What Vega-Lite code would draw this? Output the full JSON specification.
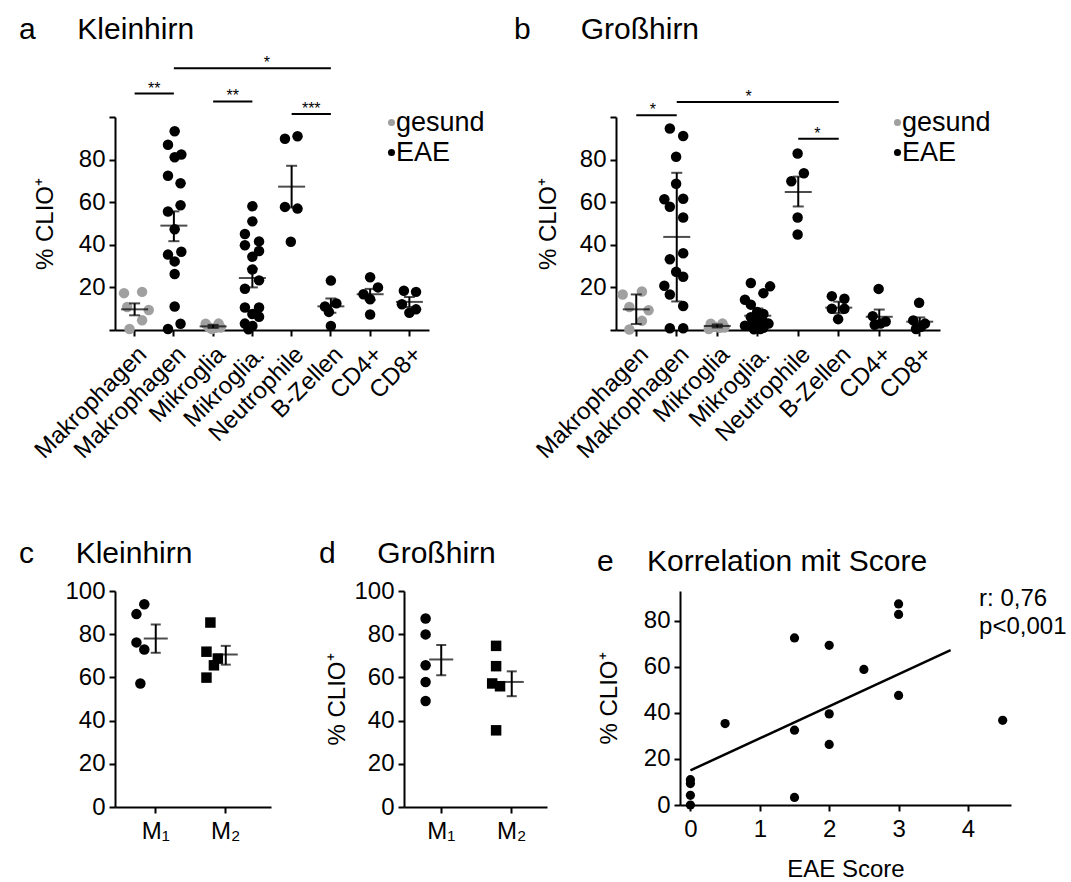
{
"$schema": "https://vega.github.io/schema/vega-lite/v6.json",
"padding": {"left": 19, "top": 15, "right": 5, "bottom": 5},
"background": "white",
"config": {
 "font": "Liberation Sans",
 "view": {"stroke": null},
 "axis": {"labelFont": "Liberation Sans", "titleFont": "Liberation Sans", "labelFontSize": 24, "titleFontSize": 24, "titleFontWeight": "normal", "labelColor": "black", "titleColor": "black", "domainColor": "black", "tickColor": "black", "domainWidth": 2, "tickWidth": 2, "tickSize": 6, "labelPadding": 4, "grid": false, "labelFlush": false, "titlePadding": 16},
 "legend": {"labelFont": "Liberation Sans", "labelFontSize": 27, "labelColor": "black"},
 "title": {"font": "Liberation Sans", "fontSize": 30, "fontWeight": "normal", "anchor": "start", "color": "black", "frame": "group"}
},
"datasets": {
 "a_pts": [
  {"cat":"Makrophagen_g","group":"gesund","v":17.3,"j":-0.27},
  {"cat":"Makrophagen_g","group":"gesund","v":17.9,"j":0.19},
  {"cat":"Makrophagen_g","group":"gesund","v":9.4,"j":0.36},
  {"cat":"Makrophagen_g","group":"gesund","v":4.6,"j":0.19},
  {"cat":"Makrophagen_g","group":"gesund","v":0.5,"j":-0.13},
  {"cat":"Makrophagen_g","group":"gesund","v":10.8,"j":-0.19},
  {"cat":"Makrophagen_e","group":"EAE","v":93.3,"j":0.02},
  {"cat":"Makrophagen_e","group":"EAE","v":87.0,"j":-0.15},
  {"cat":"Makrophagen_e","group":"EAE","v":82.4,"j":0.19},
  {"cat":"Makrophagen_e","group":"EAE","v":81.1,"j":0.02},
  {"cat":"Makrophagen_e","group":"EAE","v":72.4,"j":-0.15},
  {"cat":"Makrophagen_e","group":"EAE","v":68.9,"j":0.17},
  {"cat":"Makrophagen_e","group":"EAE","v":58.6,"j":0.17},
  {"cat":"Makrophagen_e","group":"EAE","v":55.6,"j":-0.15},
  {"cat":"Makrophagen_e","group":"EAE","v":47.3,"j":0.02},
  {"cat":"Makrophagen_e","group":"EAE","v":35.4,"j":-0.15},
  {"cat":"Makrophagen_e","group":"EAE","v":36.7,"j":0.19},
  {"cat":"Makrophagen_e","group":"EAE","v":32.2,"j":0.02},
  {"cat":"Makrophagen_e","group":"EAE","v":26.3,"j":0.02},
  {"cat":"Makrophagen_e","group":"EAE","v":11.0,"j":0.02},
  {"cat":"Makrophagen_e","group":"EAE","v":2.9,"j":0.17},
  {"cat":"Makrophagen_e","group":"EAE","v":0.5,"j":-0.15},
  {"cat":"Mikroglia_g","group":"gesund","v":2.9,"j":-0.19},
  {"cat":"Mikroglia_g","group":"gesund","v":3.0,"j":0.14},
  {"cat":"Mikroglia_g","group":"gesund","v":1.3,"j":-0.11},
  {"cat":"Mikroglia_g","group":"gesund","v":1.0,"j":0.06},
  {"cat":"Mikroglia_g","group":"gesund","v":0.5,"j":-0.03},
  {"cat":"Mikroglia_g","group":"gesund","v":1.2,"j":0.19},
  {"cat":"Mikroglia._e","group":"EAE","v":58.1,"j":0},
  {"cat":"Mikroglia._e","group":"EAE","v":51.0,"j":0},
  {"cat":"Mikroglia._e","group":"EAE","v":45.1,"j":-0.19},
  {"cat":"Mikroglia._e","group":"EAE","v":41.6,"j":0.17},
  {"cat":"Mikroglia._e","group":"EAE","v":39.8,"j":-0.19},
  {"cat":"Mikroglia._e","group":"EAE","v":37.1,"j":0.17},
  {"cat":"Mikroglia._e","group":"EAE","v":34.4,"j":0},
  {"cat":"Mikroglia._e","group":"EAE","v":28.4,"j":0},
  {"cat":"Mikroglia._e","group":"EAE","v":23.3,"j":0.17},
  {"cat":"Mikroglia._e","group":"EAE","v":19.4,"j":-0.19},
  {"cat":"Mikroglia._e","group":"EAE","v":10.6,"j":-0.19},
  {"cat":"Mikroglia._e","group":"EAE","v":10.6,"j":0.17},
  {"cat":"Mikroglia._e","group":"EAE","v":7.5,"j":0},
  {"cat":"Mikroglia._e","group":"EAE","v":6.2,"j":0.17},
  {"cat":"Mikroglia._e","group":"EAE","v":3.0,"j":-0.19},
  {"cat":"Mikroglia._e","group":"EAE","v":1.9,"j":0},
  {"cat":"Mikroglia._e","group":"EAE","v":0.3,"j":-0.1},
  {"cat":"Neutrophile","group":"EAE","v":89.8,"j":-0.17},
  {"cat":"Neutrophile","group":"EAE","v":91.0,"j":0.15},
  {"cat":"Neutrophile","group":"EAE","v":57.8,"j":-0.17},
  {"cat":"Neutrophile","group":"EAE","v":57.0,"j":0.15},
  {"cat":"Neutrophile","group":"EAE","v":41.4,"j":-0.02},
  {"cat":"B-Zellen","group":"EAE","v":23.2,"j":0},
  {"cat":"B-Zellen","group":"EAE","v":12.5,"j":0.14},
  {"cat":"B-Zellen","group":"EAE","v":11.0,"j":-0.15},
  {"cat":"B-Zellen","group":"EAE","v":8.5,"j":-0.05},
  {"cat":"B-Zellen","group":"EAE","v":1.9,"j":0},
  {"cat":"CD4+","group":"EAE","v":24.8,"j":0},
  {"cat":"CD4+","group":"EAE","v":20.0,"j":0.2},
  {"cat":"CD4+","group":"EAE","v":16.8,"j":-0.17},
  {"cat":"CD4+","group":"EAE","v":14.4,"j":0},
  {"cat":"CD4+","group":"EAE","v":7.3,"j":0},
  {"cat":"CD8+","group":"EAE","v":18.4,"j":-0.14},
  {"cat":"CD8+","group":"EAE","v":17.9,"j":0.17},
  {"cat":"CD8+","group":"EAE","v":12.1,"j":-0.19},
  {"cat":"CD8+","group":"EAE","v":9.7,"j":0.17},
  {"cat":"CD8+","group":"EAE","v":8.1,"j":0}
 ],
 "a_sum": [
  {"cat":"Makrophagen_g","mean":9.7,"lo":6.9,"hi":12.5},
  {"cat":"Makrophagen_e","mean":49.0,"lo":41.7,"hi":55.7},
  {"cat":"Mikroglia_g","mean":1.7,"lo":1.0,"hi":2.4},
  {"cat":"Mikroglia._e","mean":24.4,"lo":20.0,"hi":28.8},
  {"cat":"Neutrophile","mean":67.3,"lo":57.5,"hi":77.1},
  {"cat":"B-Zellen","mean":11.1,"lo":8.1,"hi":14.8},
  {"cat":"CD4+","mean":16.8,"lo":14.0,"hi":19.3},
  {"cat":"CD8+","mean":13.2,"lo":10.8,"hi":15.5}
 ],
 "a_sig": [
  {"from":"Makrophagen_g","to":"Makrophagen_e","y":111,"star":"**","at":"Makrophagen_g","off":0.5},
  {"from":"Makrophagen_e","to":"B-Zellen","y":122.9,"star":"*","at":"Mikroglia._e","off":0.37},
  {"from":"Mikroglia_g","to":"Mikroglia._e","y":107.3,"star":"**","at":"Mikroglia_g","off":0.5},
  {"from":"Neutrophile","to":"B-Zellen","y":101.4,"star":"***","at":"Neutrophile","off":0.5}
 ],
 "b_pts": [
  {"cat":"Makrophagen_g","group":"gesund","v":16.7,"j":-0.33},
  {"cat":"Makrophagen_g","group":"gesund","v":18.1,"j":0.16},
  {"cat":"Makrophagen_g","group":"gesund","v":10.8,"j":-0.16},
  {"cat":"Makrophagen_g","group":"gesund","v":9.3,"j":0.33},
  {"cat":"Makrophagen_g","group":"gesund","v":4.3,"j":0.16},
  {"cat":"Makrophagen_g","group":"gesund","v":0.2,"j":-0.16},
  {"cat":"Makrophagen_e","group":"EAE","v":94.6,"j":-0.16},
  {"cat":"Makrophagen_e","group":"EAE","v":91.1,"j":0.18},
  {"cat":"Makrophagen_e","group":"EAE","v":81.3,"j":0},
  {"cat":"Makrophagen_e","group":"EAE","v":68.7,"j":0},
  {"cat":"Makrophagen_e","group":"EAE","v":61.4,"j":-0.3},
  {"cat":"Makrophagen_e","group":"EAE","v":61.6,"j":0.18},
  {"cat":"Makrophagen_e","group":"EAE","v":57.9,"j":-0.16},
  {"cat":"Makrophagen_e","group":"EAE","v":52.8,"j":0.18},
  {"cat":"Makrophagen_e","group":"EAE","v":36.0,"j":0.18},
  {"cat":"Makrophagen_e","group":"EAE","v":33.2,"j":-0.16},
  {"cat":"Makrophagen_e","group":"EAE","v":27.3,"j":0},
  {"cat":"Makrophagen_e","group":"EAE","v":25.0,"j":0.18},
  {"cat":"Makrophagen_e","group":"EAE","v":20.8,"j":-0.3},
  {"cat":"Makrophagen_e","group":"EAE","v":16.7,"j":-0.16},
  {"cat":"Makrophagen_e","group":"EAE","v":11.3,"j":0.18},
  {"cat":"Makrophagen_e","group":"EAE","v":0.8,"j":-0.16},
  {"cat":"Makrophagen_e","group":"EAE","v":0.8,"j":0.18},
  {"cat":"Mikroglia_g","group":"gesund","v":2.9,"j":-0.15},
  {"cat":"Mikroglia_g","group":"gesund","v":3.0,"j":0.15},
  {"cat":"Mikroglia_g","group":"gesund","v":1.5,"j":-0.05},
  {"cat":"Mikroglia_g","group":"gesund","v":1.0,"j":0.08},
  {"cat":"Mikroglia_g","group":"gesund","v":0.5,"j":-0.2},
  {"cat":"Mikroglia_g","group":"gesund","v":1.2,"j":0.2},
  {"cat":"Mikroglia._e","group":"EAE","v":22.1,"j":-0.16},
  {"cat":"Mikroglia._e","group":"EAE","v":20.5,"j":0.33},
  {"cat":"Mikroglia._e","group":"EAE","v":17.3,"j":0.16},
  {"cat":"Mikroglia._e","group":"EAE","v":14.2,"j":-0.31},
  {"cat":"Mikroglia._e","group":"EAE","v":11.9,"j":-0.16},
  {"cat":"Mikroglia._e","group":"EAE","v":8.5,"j":0},
  {"cat":"Mikroglia._e","group":"EAE","v":7.5,"j":0.16},
  {"cat":"Mikroglia._e","group":"EAE","v":6.0,"j":-0.16},
  {"cat":"Mikroglia._e","group":"EAE","v":4.5,"j":0},
  {"cat":"Mikroglia._e","group":"EAE","v":3.8,"j":0.16},
  {"cat":"Mikroglia._e","group":"EAE","v":2.0,"j":-0.16},
  {"cat":"Mikroglia._e","group":"EAE","v":1.0,"j":0},
  {"cat":"Mikroglia._e","group":"EAE","v":1.0,"j":0.16},
  {"cat":"Mikroglia._e","group":"EAE","v":2.0,"j":-0.31},
  {"cat":"Mikroglia._e","group":"EAE","v":0.3,"j":-0.08},
  {"cat":"Mikroglia._e","group":"EAE","v":0.5,"j":0.08},
  {"cat":"Mikroglia._e","group":"EAE","v":3.0,"j":0.29},
  {"cat":"Neutrophile","group":"EAE","v":82.9,"j":0},
  {"cat":"Neutrophile","group":"EAE","v":73.6,"j":0.16},
  {"cat":"Neutrophile","group":"EAE","v":69.8,"j":-0.16},
  {"cat":"Neutrophile","group":"EAE","v":52.8,"j":0},
  {"cat":"Neutrophile","group":"EAE","v":44.8,"j":0},
  {"cat":"B-Zellen","group":"EAE","v":15.9,"j":-0.16},
  {"cat":"B-Zellen","group":"EAE","v":14.7,"j":0.16},
  {"cat":"B-Zellen","group":"EAE","v":10.0,"j":-0.16},
  {"cat":"B-Zellen","group":"EAE","v":10.0,"j":0.16},
  {"cat":"B-Zellen","group":"EAE","v":5.1,"j":0},
  {"cat":"CD4+","group":"EAE","v":19.3,"j":0},
  {"cat":"CD4+","group":"EAE","v":6.5,"j":-0.15},
  {"cat":"CD4+","group":"EAE","v":4.0,"j":0.18},
  {"cat":"CD4+","group":"EAE","v":3.0,"j":0.05},
  {"cat":"CD4+","group":"EAE","v":2.5,"j":-0.1},
  {"cat":"CD8+","group":"EAE","v":12.8,"j":0},
  {"cat":"CD8+","group":"EAE","v":4.5,"j":-0.15},
  {"cat":"CD8+","group":"EAE","v":3.0,"j":0.15},
  {"cat":"CD8+","group":"EAE","v":1.5,"j":0.05},
  {"cat":"CD8+","group":"EAE","v":0.5,"j":-0.08}
 ],
 "b_sum": [
  {"cat":"Makrophagen_g","mean":9.7,"lo":2.8,"hi":16.7},
  {"cat":"Makrophagen_e","mean":43.7,"lo":13.4,"hi":73.8},
  {"cat":"Mikroglia_g","mean":1.9,"lo":1.2,"hi":2.6},
  {"cat":"Mikroglia._e","mean":6.7,"lo":3.6,"hi":10.1},
  {"cat":"Neutrophile","mean":64.8,"lo":58.0,"hi":72.0},
  {"cat":"B-Zellen","mean":10.5,"lo":7.9,"hi":13.3},
  {"cat":"CD4+","mean":6.2,"lo":2.3,"hi":9.6},
  {"cat":"CD8+","mean":3.9,"lo":1.6,"hi":5.9}
 ],
 "b_sig": [
  {"from":"Makrophagen_g","to":"Makrophagen_e","y":100.8,"star":"*","at":"Makrophagen_g","off":0.44},
  {"from":"Makrophagen_e","to":"B-Zellen","y":107,"star":"*","at":"Mikroglia._e","off":-0.22},
  {"from":"Neutrophile","to":"B-Zellen","y":89.8,"star":"*","at":"Neutrophile","off":0.5}
 ],
 "c_pts": [
  {"cat":"M₁","v":93.9,"j":0.1},
  {"cat":"M₁","v":89.3,"j":-0.1},
  {"cat":"M₁","v":76.2,"j":-0.1},
  {"cat":"M₁","v":72.9,"j":0.1},
  {"cat":"M₁","v":57.2,"j":0},
  {"cat":"M₂","v":85.4,"j":0},
  {"cat":"M₂","v":71.9,"j":-0.1},
  {"cat":"M₂","v":68.7,"j":0.19},
  {"cat":"M₂","v":65.6,"j":0.09},
  {"cat":"M₂","v":59.9,"j":-0.1}
 ],
 "c_sum": [
  {"cat":"M₁","mean":78.0,"lo":71.4,"hi":84.5},
  {"cat":"M₂","mean":70.6,"lo":65.9,"hi":74.6}
 ],
 "d_pts": [
  {"cat":"M₁","v":87.3,"j":0},
  {"cat":"M₁","v":79.9,"j":0},
  {"cat":"M₁","v":65.6,"j":0},
  {"cat":"M₁","v":57.9,"j":0},
  {"cat":"M₁","v":49.1,"j":0},
  {"cat":"M₂","v":74.6,"j":0},
  {"cat":"M₂","v":65.2,"j":0},
  {"cat":"M₂","v":57.2,"j":-0.1},
  {"cat":"M₂","v":55.9,"j":0.1},
  {"cat":"M₂","v":35.5,"j":0}
 ],
 "d_sum": [
  {"cat":"M₁","mean":68.3,"lo":61.0,"hi":75.0},
  {"cat":"M₂","mean":57.9,"lo":51.3,"hi":62.8}
 ],
 "e_pts": [
  {"s":0,"v":11.0},{"s":0,"v":9.3},{"s":0,"v":4.2},{"s":0,"v":0},
  {"s":0.5,"v":35.4},
  {"s":1.5,"v":72.6},{"s":1.5,"v":32.5},{"s":1.5,"v":3.3},
  {"s":2,"v":69.4},{"s":2,"v":39.6},{"s":2,"v":26.3},
  {"s":2.5,"v":58.9},
  {"s":3,"v":87.4},{"s":3,"v":82.8},{"s":3,"v":47.6},
  {"s":4.5,"v":36.8}
 ]
},
"spacing": 76,
"vconcat": [
 {
  "hconcat": [
   {
    "width": 314, "height": 213,
    "title": {"text": "a\u00a0\u00a0\u00a0\u00a0\u00a0Kleinhirn", "dx": -96, "offset": 10},
    "layer": [
     {"data": {"name": "a_pts"}, "mark": {"type": "circle", "size": 110, "opacity": 1},
      "encoding": {
       "x": {"field": "cat", "type": "nominal", "scale": {"type": "band", "domain": ["Makrophagen_g","Makrophagen_e","Mikroglia_g","Mikroglia._e","Neutrophile","B-Zellen","CD4+","CD8+"], "paddingInner": 0, "paddingOuter": 0},
             "axis": {"title": null, "labelAngle": -45, "labelAlign": "right", "labelBaseline": "top", "labelExpr": "split(datum.value, '_')[0]", "labelPadding": 6}},
       "xOffset": {"field": "j", "type": "quantitative", "scale": {"domain": [-0.5, 0.5]}},
       "y": {"field": "v", "type": "quantitative", "scale": {"domain": [0, 100], "nice": false},
             "axis": {"title": "% CLIO⁺", "titlePadding": 21, "values": [0,20,40,60,80,100], "labelExpr": "datum.value == 0 || datum.value == 100 ? '' : datum.label"}},
       "color": {"field": "group", "type": "nominal", "scale": {"domain": ["gesund","EAE"], "range": ["#a0a0a0","#000000"]},
                 "legend": {"title": null, "orient": "none", "legendX": 263, "legendY": -8, "symbolType": "circle", "symbolSize": 50, "labelOffset": -9, "padding": 0}}
      }},
     {"data": {"name": "a_sum"}, "mark": {"type": "rule", "color": "black", "strokeWidth": 2},
      "encoding": {"x": {"field": "cat", "type": "nominal"}, "y": {"field": "lo", "type": "quantitative"}, "y2": {"field": "hi"}}},
     {"data": {"name": "a_sum"}, "mark": {"type": "tick", "color": "black", "size": 27, "thickness": 2},
      "encoding": {"x": {"field": "cat", "type": "nominal"}, "y": {"field": "mean", "type": "quantitative"}}},
     {"data": {"name": "a_sum"}, "mark": {"type": "tick", "color": "black", "size": 11, "thickness": 2},
      "encoding": {"x": {"field": "cat", "type": "nominal"}, "y": {"field": "lo", "type": "quantitative"}}},
     {"data": {"name": "a_sum"}, "mark": {"type": "tick", "color": "black", "size": 11, "thickness": 2},
      "encoding": {"x": {"field": "cat", "type": "nominal"}, "y": {"field": "hi", "type": "quantitative"}}},
     {"data": {"name": "a_sig"}, "mark": {"type": "rule", "color": "black", "strokeWidth": 2},
      "encoding": {"x": {"field": "from", "type": "nominal"}, "x2": {"field": "to"}, "y": {"field": "y", "type": "quantitative"}}},
     {"data": {"name": "a_sig"}, "mark": {"type": "text", "fontSize": 16, "baseline": "alphabetic", "align": "center", "color": "black"},
      "encoding": {"x": {"field": "at", "type": "nominal"}, "xOffset": {"field": "off", "type": "quantitative", "scale": {"domain": [-0.5, 0.5]}}, "y": {"field": "y", "type": "quantitative"}, "text": {"field": "star"}}}
    ]
   },
   {
    "width": 324, "height": 213,
    "title": {"text": "b\u00a0\u00a0\u00a0\u00a0\u00a0\u00a0Großhirn", "dx": -102, "offset": 44},
    "layer": [
     {"data": {"name": "b_pts"}, "mark": {"type": "circle", "size": 110, "opacity": 1},
      "encoding": {
       "x": {"field": "cat", "type": "nominal", "scale": {"type": "band", "domain": ["Makrophagen_g","Makrophagen_e","Mikroglia_g","Mikroglia._e","Neutrophile","B-Zellen","CD4+","CD8+"], "paddingInner": 0, "paddingOuter": 0},
             "axis": {"title": null, "labelAngle": -45, "labelAlign": "right", "labelBaseline": "top", "labelExpr": "split(datum.value, '_')[0]", "labelPadding": 6}},
       "xOffset": {"field": "j", "type": "quantitative", "scale": {"domain": [-0.5, 0.5]}},
       "y": {"field": "v", "type": "quantitative", "scale": {"domain": [0, 100], "nice": false},
             "axis": {"title": "% CLIO⁺", "titlePadding": 19, "values": [0,20,40,60,80,100], "labelExpr": "datum.value == 0 || datum.value == 100 ? '' : datum.label"}},
       "color": {"field": "group", "type": "nominal", "scale": {"domain": ["gesund","EAE"], "range": ["#a0a0a0","#000000"]},
                 "legend": {"title": null, "orient": "none", "legendX": 268, "legendY": -8, "symbolType": "circle", "symbolSize": 50, "labelOffset": -9, "padding": 0}}
      }},
     {"data": {"name": "b_sum"}, "mark": {"type": "rule", "color": "black", "strokeWidth": 2},
      "encoding": {"x": {"field": "cat", "type": "nominal"}, "y": {"field": "lo", "type": "quantitative"}, "y2": {"field": "hi"}}},
     {"data": {"name": "b_sum"}, "mark": {"type": "tick", "color": "black", "size": 27, "thickness": 2},
      "encoding": {"x": {"field": "cat", "type": "nominal"}, "y": {"field": "mean", "type": "quantitative"}}},
     {"data": {"name": "b_sum"}, "mark": {"type": "tick", "color": "black", "size": 11, "thickness": 2},
      "encoding": {"x": {"field": "cat", "type": "nominal"}, "y": {"field": "lo", "type": "quantitative"}}},
     {"data": {"name": "b_sum"}, "mark": {"type": "tick", "color": "black", "size": 11, "thickness": 2},
      "encoding": {"x": {"field": "cat", "type": "nominal"}, "y": {"field": "hi", "type": "quantitative"}}},
     {"data": {"name": "b_sig"}, "mark": {"type": "rule", "color": "black", "strokeWidth": 2},
      "encoding": {"x": {"field": "from", "type": "nominal"}, "x2": {"field": "to"}, "y": {"field": "y", "type": "quantitative"}}},
     {"data": {"name": "b_sig"}, "mark": {"type": "text", "fontSize": 16, "baseline": "alphabetic", "align": "center", "color": "black"},
      "encoding": {"x": {"field": "at", "type": "nominal"}, "xOffset": {"field": "off", "type": "quantitative", "scale": {"domain": [-0.5, 0.5]}}, "y": {"field": "y", "type": "quantitative"}, "text": {"field": "star"}}}
    ]
   }
  ],
  "spacing": 187,
  "bounds": "flush",
  "resolve": {"scale": {"color": "independent"}}
 },
 {
  "hconcat": [
   {
    "width": 156, "height": 216,
    "title": {"text": "c\u00a0\u00a0\u00a0\u00a0\u00a0Kleinhirn", "dx": -96, "offset": 10},
    "layer": [
     {"data": {"name": "c_pts"}, "mark": {"type": "point", "filled": true, "size": 110, "opacity": 1, "color": "black"},
      "encoding": {
       "x": {"field": "cat", "type": "nominal", "scale": {"type": "band", "domain": ["M₁","M₂"], "paddingInner": 0, "paddingOuter": 0.114, "align": 0.36}, "axis": {"title": null, "labelAngle": 0, "labelPadding": 6}},
       "xOffset": {"field": "j", "type": "quantitative", "scale": {"domain": [-0.5, 0.5]}},
       "y": {"field": "v", "type": "quantitative", "scale": {"domain": [0, 100], "nice": false}, "axis": {"title": null, "values": [0,20,40,60,80,100]}},
       "shape": {"field": "cat", "type": "nominal", "scale": {"domain": ["M₁","M₂"], "range": ["circle","square"]}, "legend": null}
      }},
     {"data": {"name": "c_sum"}, "mark": {"type": "rule", "color": "black", "strokeWidth": 2},
      "encoding": {"x": {"field": "cat", "type": "nominal"}, "y": {"field": "lo", "type": "quantitative"}, "y2": {"field": "hi"}}},
     {"data": {"name": "c_sum"}, "mark": {"type": "tick", "color": "black", "size": 24, "thickness": 2},
      "encoding": {"x": {"field": "cat", "type": "nominal"}, "y": {"field": "mean", "type": "quantitative"}}},
     {"data": {"name": "c_sum"}, "mark": {"type": "tick", "color": "black", "size": 10, "thickness": 2},
      "encoding": {"x": {"field": "cat", "type": "nominal"}, "y": {"field": "lo", "type": "quantitative"}}},
     {"data": {"name": "c_sum"}, "mark": {"type": "tick", "color": "black", "size": 10, "thickness": 2},
      "encoding": {"x": {"field": "cat", "type": "nominal"}, "y": {"field": "hi", "type": "quantitative"}}}
    ]
   },
   {
    "width": 143, "height": 216,
    "title": {"text": "d\u00a0\u00a0\u00a0\u00a0\u00a0Großhirn", "dx": -85, "offset": 10},
    "layer": [
     {"data": {"name": "d_pts"}, "mark": {"type": "point", "filled": true, "size": 110, "opacity": 1, "color": "black"},
      "encoding": {
       "x": {"field": "cat", "type": "nominal", "scale": {"type": "band", "domain": ["M₁","M₂"], "paddingInner": 0, "paddingOuter": 0.014, "align": 1}, "axis": {"title": null, "labelAngle": 0, "labelPadding": 6}},
       "xOffset": {"field": "j", "type": "quantitative", "scale": {"domain": [-0.5, 0.5]}},
       "y": {"field": "v", "type": "quantitative", "scale": {"domain": [0, 100], "nice": false}, "axis": {"title": "% CLIO⁺", "titlePadding": 4, "values": [0,20,40,60,80,100]}},
       "shape": {"field": "cat", "type": "nominal", "scale": {"domain": ["M₁","M₂"], "range": ["circle","square"]}, "legend": null}
      }},
     {"data": {"name": "d_sum"}, "mark": {"type": "rule", "color": "black", "strokeWidth": 2},
      "encoding": {"x": {"field": "cat", "type": "nominal"}, "y": {"field": "lo", "type": "quantitative"}, "y2": {"field": "hi"}}},
     {"data": {"name": "d_sum"}, "mark": {"type": "tick", "color": "black", "size": 24, "thickness": 2},
      "encoding": {"x": {"field": "cat", "type": "nominal"}, "y": {"field": "mean", "type": "quantitative"}}},
     {"data": {"name": "d_sum"}, "mark": {"type": "tick", "color": "black", "size": 10, "thickness": 2},
      "encoding": {"x": {"field": "cat", "type": "nominal"}, "y": {"field": "lo", "type": "quantitative"}}},
     {"data": {"name": "d_sum"}, "mark": {"type": "tick", "color": "black", "size": 10, "thickness": 2},
      "encoding": {"x": {"field": "cat", "type": "nominal"}, "y": {"field": "hi", "type": "quantitative"}}}
    ]
   },
   {
    "width": 331, "height": 214,
    "title": {"text": "e\u00a0\u00a0\u00a0\u00a0Korrelation mit Score", "dx": -83, "offset": 10},
    "layer": [
     {"data": {"name": "e_pts"}, "mark": {"type": "circle", "size": 85, "opacity": 1, "color": "black"},
      "encoding": {
       "x": {"field": "s", "type": "quantitative", "scale": {"domain": [-0.15, 4.62], "nice": false, "zero": false}, "axis": {"title": "EAE Score", "values": [0,1,2,3,4], "format": "d", "labelPadding": 6, "titlePadding": 16}},
       "y": {"field": "v", "type": "quantitative", "scale": {"domain": [0, 93], "nice": false}, "axis": {"title": "% CLIO⁺", "titlePadding": 22, "values": [0,20,40,60,80]}}
      }},
     {"data": {"name": "e_pts"}, "transform": [{"regression": "v", "on": "s", "extent": [0, 3.75]}],
      "mark": {"type": "line", "color": "black", "strokeWidth": 2.5},
      "encoding": {"x": {"field": "s", "type": "quantitative"}, "y": {"field": "v", "type": "quantitative"}}},
     {"data": {"values": [{}]}, "mark": {"type": "text", "align": "left", "baseline": "alphabetic", "fontSize": 24, "lineBreak": "\n", "lineHeight": 28, "color": "black"},
      "encoding": {"x": {"datum": 4.16, "type": "quantitative"}, "y": {"datum": 86.4, "type": "quantitative"}, "text": {"value": "r: 0,76\np<0,001"}}}
    ]
   }
  ],
  "spacing": 133,
  "bounds": "flush"
 }
]
}
